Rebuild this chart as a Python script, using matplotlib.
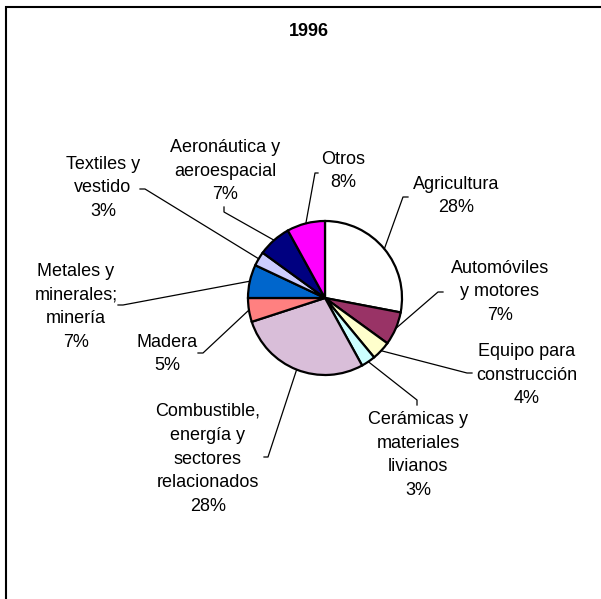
import numpy as np
import matplotlib
matplotlib.use("Agg")
import matplotlib.pyplot as plt
from matplotlib.patches import Rectangle

plt.rcParams['font.family'] = ['Liberation Sans', 'DejaVu Sans']

# data (clockwise from 12 o'clock)
sectors = ["Agricultura", "Automóviles\ny motores", "Equipo para\nconstrucción",
           "Cerámicas y\nmateriales\nlivianos", "Combustible,\nenergía y\nsectores\nrelacionados",
           "Madera", "Metales y\nminerales;\nminería", "Textiles y\nvestido",
           "Aeronáutica y\naeroespacial", "Otros"]
shares = [28, 7, 4, 3, 28, 5, 7, 3, 7, 8]
colors = ["#FFFFFF", "#993366", "#FFFFCC", "#CCFFFF", "#D9BED9",
          "#FF8080", "#0066CC", "#CCCCFF", "#000080", "#FF00FF"]

# layout in pixels (from top-left), label centre, elbow and end of leader line
label_xy = [(456, 196), (500, 292), (527, 375), (418, 455), (208, 459),
            (167, 354), (76, 307), (103, 188), (225, 171), (343, 171)]
elbow_xy = [(403, 197), (438, 292), (467, 373), (417, 400), (268, 457),
            (203, 353), (123, 305), (145, 189), (224, 212), (315, 173)]
end_xy = [(408, 197), (443, 292), (472, 373), (417, 405), (264, 457),
          (198, 353), (118, 305), (140, 189), (224, 207), (318, 173)]

W, H = 601, 599
fig = plt.figure(figsize=(W / 100, H / 100), dpi=100)
ax = fig.add_axes([0, 0, 1, 1])

cx, cy, r = 325, H - 298, 77
wedges, _ = ax.pie(shares, colors=colors, startangle=90, counterclock=False,
                   center=(cx, cy), radius=r, frame=True,
                   wedgeprops=dict(edgecolor='black', linewidth=1.6))
ax.set_xlim(0, W)
ax.set_ylim(0, H)
ax.axis('off')

for w, name, v, lxy, exy, txy in zip(wedges, sectors, shares, label_xy, elbow_xy, end_xy):
    ang = np.deg2rad((w.theta1 + w.theta2) / 2)
    px, py = cx + r * np.cos(ang), cy + r * np.sin(ang)
    ax.plot([px, exy[0], txy[0]], [py, H - exy[1], H - txy[1]],
            color='black', linewidth=0.9)
    ax.text(lxy[0], H - lxy[1], name + "\n" + str(v) + "%", ha='center', va='center',
            fontsize=13, linespacing=1.53)

ax.text(309, H - 31, "1996", ha='center', va='center', fontsize=13, fontweight='bold')

fig.patches.append(Rectangle((6, -10), W + 10, H - 7 + 10, transform=None,
                             fill=False, edgecolor='black', linewidth=1.5))

fig.savefig("out.png", dpi=100)
